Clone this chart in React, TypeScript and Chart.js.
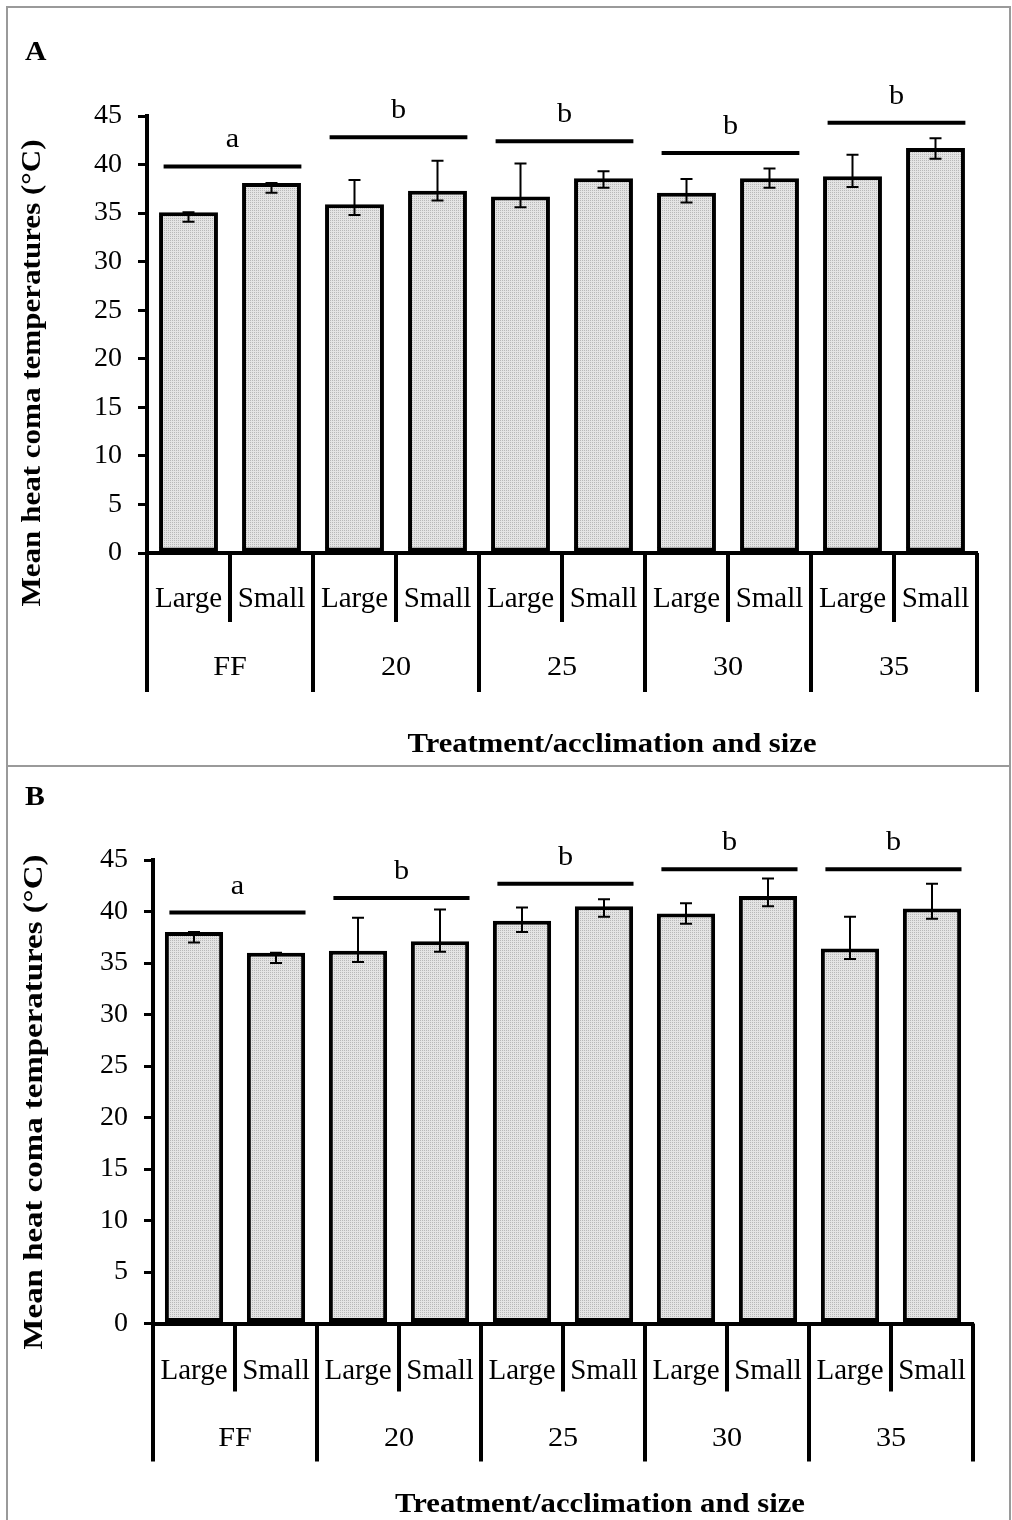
import React, { useEffect, useRef } from "react";
import { Chart, registerables } from "chart.js";
Chart.register(...registerables);

// ---------- data ----------
const sizeLabels = ["Large", "Small", "Large", "Small", "Large", "Small", "Large", "Small", "Large", "Small"];
const groupLabels = ["FF", "20", "25", "30", "35"];

const valuesA = [35.1, 38.1, 35.9, 37.3, 36.7, 38.6, 37.1, 38.6, 38.8, 41.7];
const errUpA = [0, 0, 2.5, 3.1, 3.4, 0.7, 1.4, 1.0, 2.2, 1.0];
const errDownA = [1.0, 1.0, 1.1, 1.0, 1.1, 1.0, 1.0, 1.0, 1.1, 1.1];
const sigLineA = [39.8, 42.8, 42.4, 41.2, 44.3];
const sigLetterA = ["a", "b", "b", "b", "b"];

const valuesB = [38.0, 36.0, 36.2, 37.1, 39.1, 40.5, 39.8, 41.5, 36.4, 40.3];
const errUpB = [0, 0, 3.2, 3.1, 1.3, 0.7, 1.0, 1.7, 3.1, 2.4];
const errDownB = [1.0, 1.0, 1.1, 1.0, 1.1, 1.0, 1.0, 1.0, 1.0, 1.0];
const sigLineB = [39.9, 41.3, 42.7, 44.1, 44.1];
const sigLetterB = ["a", "b", "b", "b", "b"];

const yMin = 0;
const yMax = 45;
const yStep = 5;
const yTitle = "Mean heat coma temperatures (°C)";
const xTitle = "Treatment/acclimation and size";

const FONT = '"Liberation Serif", "Times New Roman", serif';

type Layout = {
  top: number; h: number; left: number; right: number; areaTop: number; areaBottom: number;
  tickPad: number; shortSep: number; longSep: number; groupY: number;
  xTitleX: number; xTitleY: number; yTitleX: number; yTitleY: number; letterY: number;
  xTitleW: number; yTitleW: number;
};

const layoutA: Layout = {
  top: 0, h: 766, left: 147, right: 977, areaTop: 116, areaBottom: 553,
  tickPad: 29, shortSep: 69, longSep: 139, groupY: 115,
  xTitleX: 612, xTitleY: 745, yTitleX: 33, yTitleY: 373, letterY: 60,
  xTitleW: 409, yTitleW: 467,
};
const layoutB: Layout = {
  top: 766, h: 754, left: 153, right: 973, areaTop: 94, areaBottom: 557.5,
  tickPad: 30, shortSep: 68, longSep: 138, groupY: 115,
  xTitleX: 600, xTitleY: 739, yTitleX: 35, yTitleY: 336, letterY: 39,
  xTitleW: 410, yTitleW: 495,
};

type PanelProps = {
  letter: string; values: number[]; up: number[]; down: number[];
  sigLine: number[]; sigLetter: string[]; L: Layout;
};

function fitText(ctx: CanvasRenderingContext2D, text: string, x: number, y: number, width: number, rot = 0) {
  const w = ctx.measureText(text).width;
  ctx.save();
  ctx.translate(x, y);
  if (rot) ctx.rotate(rot);
  ctx.scale(width / w, 1);
  ctx.fillText(text, 0, 0);
  ctx.restore();
}

function stretchText(ctx: CanvasRenderingContext2D, text: string, x: number, y: number, sx: number) {
  ctx.save();
  ctx.translate(x, y);
  ctx.scale(sx, 1);
  ctx.fillText(text, 0, 0);
  ctx.restore();
}

function Panel({ letter, values, up, down, sigLine, sigLetter, L }: PanelProps) {
  const ref = useRef<HTMLCanvasElement | null>(null);
  useEffect(() => {
    const canvas = ref.current!;
    const ctx0 = canvas.getContext("2d")!;
    const pc = document.createElement("canvas");
    pc.width = 2; pc.height = 2;
    const pctx = pc.getContext("2d")!;
    pctx.fillStyle = "#e4e4e4"; pctx.fillRect(0, 0, 2, 2);
    pctx.fillStyle = "#b8b8b8"; pctx.fillRect(0, 0, 1, 1);
    const pattern = ctx0.createPattern(pc, "repeat")!;

    const decor = {
      id: "decor",
      afterDatasetsDraw(chart: any) {
        const { ctx, scales: { x, y } } = chart;
        ctx.save();
        ctx.strokeStyle = "#000";
        ctx.lineWidth = 2;
        values.forEach((v, i) => {
          const cx = x.getPixelForValue(i);
          const t = y.getPixelForValue(v + up[i]);
          const b = y.getPixelForValue(v - down[i]);
          ctx.beginPath();
          ctx.moveTo(cx, t); ctx.lineTo(cx, b);
          ctx.moveTo(cx - 6, t); ctx.lineTo(cx + 6, t);
          ctx.moveTo(cx - 6, b); ctx.lineTo(cx + 6, b);
          ctx.stroke();
        });
        ctx.restore();
      },
      afterDraw(chart: any) {
        const { ctx, chartArea: ca, scales: { x, y } } = chart;
        const n = values.length;
        const slot = (ca.right - ca.left) / n;
        ctx.save();
        ctx.strokeStyle = "#000";
        ctx.fillStyle = "#000";
        ctx.lineWidth = 4;
        for (let i = 0; i <= n; i++) {
          const px = i === 0 ? ca.left : i === n ? ca.right : (x.getPixelForValue(i - 1) + x.getPixelForValue(i)) / 2;
          const len = i % 2 === 0 ? L.longSep : L.shortSep;
          ctx.beginPath();
          ctx.moveTo(px, ca.bottom);
          ctx.lineTo(px, ca.bottom + len);
          ctx.stroke();
        }
        ctx.textAlign = "center";
        ctx.textBaseline = "middle";
        ctx.font = `28px ${FONT}`;
        groupLabels.forEach((g, k) => {
          const gx = (x.getPixelForValue(2 * k) + x.getPixelForValue(2 * k + 1)) / 2;
          stretchText(ctx, g, gx, ca.bottom + L.groupY, 1.08);
        });
        sigLine.forEach((sv, k) => {
          const gl = x.getPixelForValue(2 * k) - slot / 2;
          const gr = x.getPixelForValue(2 * k + 1) + slot / 2;
          const x0 = gl + slot * 0.2;
          const x1 = gr - slot * 0.14;
          const py = y.getPixelForValue(sv);
          ctx.lineWidth = 4;
          ctx.beginPath();
          ctx.moveTo(x0, py); ctx.lineTo(x1, py);
          ctx.stroke();
          ctx.font = `28px ${FONT}`;
          ctx.textBaseline = "alphabetic";
          stretchText(ctx, sigLetter[k], (x0 + x1) / 2, py - 19, 1.08);
        });
        ctx.textBaseline = "middle";
        ctx.font = `bold 28px ${FONT}`;
        fitText(ctx, xTitle, L.xTitleX, L.xTitleY, L.xTitleW);
        fitText(ctx, yTitle, L.yTitleX, L.yTitleY, L.yTitleW, -Math.PI / 2);
        ctx.textAlign = "left";
        ctx.textBaseline = "alphabetic";
        ctx.font = `bold 27px ${FONT}`;
        stretchText(ctx, letter, 25, L.letterY, 1.1);
        ctx.restore();
      },
    };

    const chart = new Chart(canvas, {
      type: "bar",
      data: {
        labels: sizeLabels,
        datasets: [{
          data: values,
          backgroundColor: pattern,
          borderColor: "#000",
          borderWidth: 4,
          borderSkipped: false,
          barPercentage: 0.71,
          categoryPercentage: 1,
        }],
      },
      options: {
        animation: false,
        responsive: false,
        devicePixelRatio: 1,
        layout: { padding: { left: 0, right: 1012 - L.right, top: L.areaTop, bottom: 0 } },
        plugins: { legend: { display: false }, tooltip: { enabled: false } },
        scales: {
          x: {
            grid: { display: false, drawTicks: false },
            border: { display: true, width: 4, color: "#000" },
            ticks: {
              color: "#000", padding: L.tickPad, maxRotation: 0, autoSkip: false,
              font: { family: FONT, size: 29, lineHeight: 1.2 },
            },
            afterFit: (s: any) => { s.height = L.h - L.areaBottom; },
          },
          y: {
            min: yMin, max: yMax,
            grid: { drawOnChartArea: false, drawTicks: true, tickLength: 9, tickWidth: 3, tickColor: "#000", color: "#000", lineWidth: 3 },
            border: { display: true, width: 4, color: "#000" },
            ticks: { stepSize: yStep, color: "#000", padding: 16, font: { family: FONT, size: 28 } },
            afterFit: (s: any) => { s.width = L.left; },
          },
        },
      },
      plugins: [decor],
    } as any);
    return () => chart.destroy();
  }, []);
  return (
    <canvas
      ref={ref}
      width={1012}
      height={L.h}
      style={{ position: "absolute", left: 0, top: L.top, width: 1012, height: L.h }}
    />
  );
}

export default function App() {
  return (
    <div style={{ position: "absolute", left: 0, top: 0, width: 1012, height: 1520, background: "#fff", overflow: "hidden" }}>
      <Panel letter="A" values={valuesA} up={errUpA} down={errDownA} sigLine={sigLineA} sigLetter={sigLetterA} L={layoutA} />
      <Panel letter="B" values={valuesB} up={errUpB} down={errDownB} sigLine={sigLineB} sigLetter={sigLetterB} L={layoutB} />
      <div style={{ position: "absolute", left: 6, top: 6, width: 1005, height: 761, border: "2px solid #9a9a9a", boxSizing: "border-box", pointerEvents: "none" }} />
      <div style={{ position: "absolute", left: 6, top: 765, width: 1005, height: 770, border: "2px solid #9a9a9a", boxSizing: "border-box", pointerEvents: "none" }} />
    </div>
  );
}
